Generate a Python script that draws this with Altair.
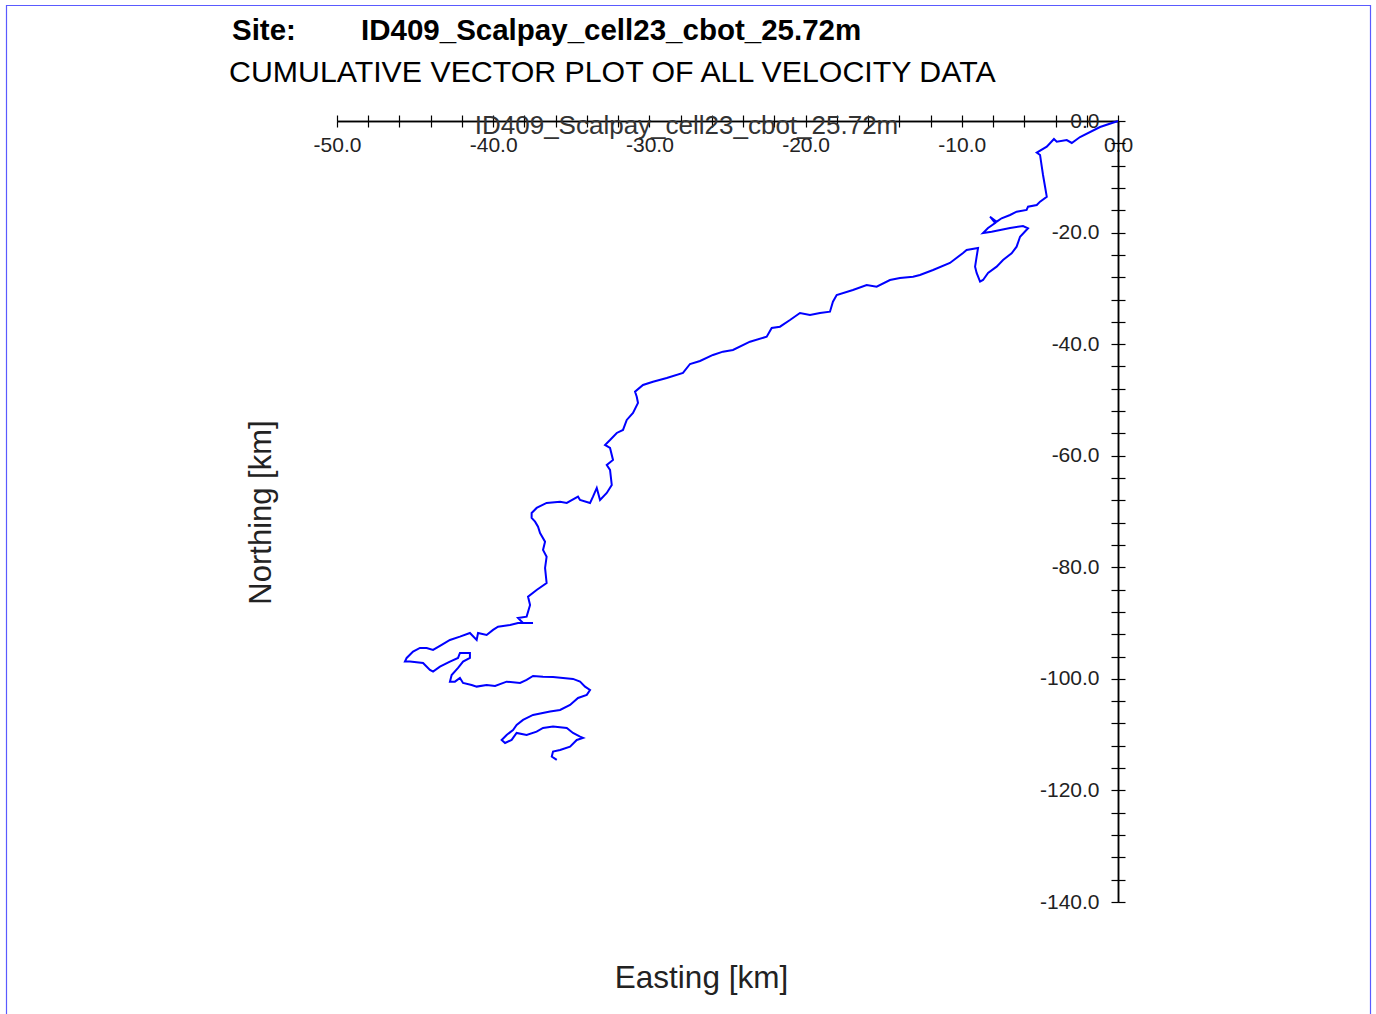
import altair as alt
import pandas as pd

# Cumulative displacement path (km)
east = [0.0, -1.15, -2.43, -2.96, -3.28, -3.92, -4.10, -4.56, -5.20, -4.99,
        -4.88, -4.80, -4.67, -4.56, -4.99, -5.20, -5.76, -5.85, -6.49, -6.91,
        -7.45, -7.77, -8.19, -7.87, -8.32, -8.64, -8.09, -6.91, -6.08, -5.76,
        -6.27, -6.49, -6.81, -7.36, -7.77, -8.32, -8.64, -8.83, -9.05, -9.15,
        -9.05, -8.96, -9.69, -9.92, -10.76, -11.84, -12.68, -13.12, -13.96, -14.60,
        -15.45, -16.09, -16.97, -18.01, -18.25, -18.44, -19.08, -19.72, -20.36, -21.00,
        -21.64, -22.17, -22.49, -23.56, -24.65, -25.29, -25.93, -26.76, -27.40, -27.85,
        -28.89, -29.77, -30.41, -30.92, -30.81, -30.73, -31.05, -31.45, -31.69, -32.09,
        -32.52, -32.84, -32.52, -32.33, -32.73, -32.52, -32.41, -32.73, -33.16, -33.37,
        -33.61, -33.80, -34.44, -34.57, -35.29, -35.72, -36.58, -37.22, -37.54, -37.54,
        -37.32, -37.13, -37.00, -36.68, -36.81, -36.58, -36.68, -36.58, -37.22, -37.77,
        -37.64, -37.86, -38.41, -38.09, -37.45, -38.41, -38.92, -39.69, -40.01, -40.42,
        -40.97, -41.06, -41.49, -42.13, -42.77, -43.30, -43.85, -44.26, -44.69, -45.13,
        -45.54, -45.65, -45.33, -44.49, -44.05, -43.85, -43.41, -42.77, -42.25, -42.13,
        -41.49, -41.49, -41.93, -42.25, -42.66, -42.77, -42.45, -42.13, -41.93, -41.38,
        -41.06, -40.42, -39.88, -39.14, -38.28, -37.86, -37.45, -36.81, -36.17, -35.53,
        -34.89, -34.44, -34.12, -33.80, -34.01, -34.57, -35.08, -35.72, -36.36, -37.45,
        -38.09, -38.50, -38.73, -39.14, -39.46, -39.24, -38.82, -38.50, -37.86, -37.22,
        -36.81, -36.17, -35.29, -34.89, -34.44, -34.25, -34.65, -35.08, -35.72, -36.17,
        -36.25, -35.93]
north = [0.0, -1.08, -2.87, -3.94, -3.41, -3.71, -3.23, -4.61, -5.68, -6.09,
         -8.19, -9.68, -11.78, -13.57, -14.46, -15.06, -15.36, -15.95, -16.26, -16.85,
         -17.44, -18.05, -17.15, -18.28, -19.18, -20.07, -19.84, -19.18, -18.82, -19.23,
         -20.74, -22.53, -23.71, -24.91, -26.11, -27.24, -28.50, -28.80, -27.24, -26.11,
         -24.32, -22.76, -23.12, -23.66, -25.45, -26.71, -27.60, -27.91, -28.14, -28.50,
         -29.70, -29.39, -30.29, -31.19, -32.39, -34.18, -34.41, -34.77, -34.41, -35.67,
         -36.87, -37.10, -38.66, -39.56, -41.05, -41.35, -41.94, -43.02, -43.56, -45.17,
         -46.06, -46.73, -47.32, -48.52, -49.42, -50.54, -52.34, -53.59, -55.38, -55.92,
         -57.18, -58.07, -58.61, -60.76, -61.66, -62.55, -65.24, -66.68, -67.93, -65.78,
         -67.34, -68.47, -67.93, -67.34, -68.47, -68.24, -68.47, -69.36, -70.26, -71.16,
         -71.82, -72.72, -73.85, -75.41, -76.89, -78.10, -80.12, -82.81, -84.06, -85.26,
         -86.75, -88.85, -89.08, -89.98, -89.98, -89.98, -90.34, -90.64, -91.23, -92.13,
         -91.77, -93.03, -91.77, -92.43, -93.03, -93.92, -94.82, -94.46, -94.46, -95.12,
         -96.25, -96.91, -96.91, -97.15, -98.40, -98.71, -97.81, -96.91, -96.25, -95.36,
         -95.36, -96.25, -96.91, -98.04, -99.30, -100.50, -100.50, -99.84, -100.73, -101.09,
         -101.39, -101.09, -101.27, -100.50, -100.73, -100.19, -99.48, -99.60, -99.65, -99.83,
         -100.01, -100.50, -101.39, -101.99, -102.88, -103.42, -104.67, -105.57, -105.87, -106.47,
         -107.36, -108.26, -109.16, -110.05, -110.95, -111.49, -110.95, -109.69, -110.05, -109.46,
         -108.80, -108.56, -108.80, -109.69, -110.36, -110.59, -110.95, -112.15, -112.74, -113.04,
         -113.94, -114.53]

x_ticks = list(range(-50, 1, 2))
y_ticks = list(range(-140, 1, 4))

site_label = ["Site:"]
site_name = ["ID409_Scalpay_cell23_cbot_25.72m"]
subtitle_line = ["CUMULATIVE VECTOR PLOT OF ALL VELOCITY DATA"]
x_title = "Easting [km]"
y_title = "Northing [km]"

df = pd.DataFrame({"step": list(range(len(east))), "east": east, "north": north})

W = 781
H = 781
REG = "Liberation Sans, Arial"

x_scale = alt.Scale(domain=[-50, 0], nice=False, zero=False)
y_scale = alt.Scale(domain=[-140, 0], nice=False, zero=False)

lbl_x = "datum.value % 10 == 0 ? (datum.value < 0 ? '-' : '') + format(abs(datum.value), '.1f') : ''"
lbl_y = "datum.value % 20 == 0 ? (datum.value < 0 ? '-' : '') + format(abs(datum.value), '.1f') : ''"

border = alt.Chart(pd.DataFrame({"k": [0]})).mark_rect(
    fillOpacity=0, stroke="#5a5aff", strokeWidth=1.2
).encode(
    x=alt.value(-330.5), x2=alt.value(1033.5), y=alt.value(-115.5), y2=alt.value(910)
)


def head_text(values, x, y, size, weight):
    return alt.Chart(pd.DataFrame({"t": values})).mark_text(
        align="left", baseline="alphabetic", font=REG, fontSize=size,
        fontWeight=weight, color="#000"
    ).encode(text="t:N", x=alt.value(x), y=alt.value(y))


t_site = head_text(site_label, -105, -81, 29.5, "bold")
t_name = head_text(site_name, 24, -81, 29.5, "bold")
t_sub = head_text(subtitle_line, -108, -39, 30.3, "normal")

trace = alt.Chart(df).mark_line(color="#0000ff", strokeWidth=2).encode(
    x=alt.X("east:Q", scale=x_scale, axis=alt.Axis(
        orient="bottom", offset=-H, values=x_ticks, labelExpr=lbl_x,
        tickSize=6, tickWidth=1.2, labelPadding=7, labelFlush=False, labelOverlap=False,
        labelFontSize=21, labelFont=REG, labelColor="#222",
        domainColor="#000", domainWidth=1.5, tickColor="#000", grid=False,
        title=x_title, titleX=364, titleY=866, titleAlign="center",
        titleBaseline="alphabetic", titleFontSize=31.5, titleFont=REG,
        titleFontWeight="normal", titleColor="#222")),
    y=alt.Y("north:Q", scale=y_scale, axis=alt.Axis(
        orient="left", offset=-W, values=y_ticks, labelExpr=lbl_y,
        tickSize=7, tickWidth=1.2, labelPadding=12, labelFlush=False, labelOverlap=False,
        labelFontSize=21, labelFont=REG, labelColor="#222",
        domainColor="#000", domainWidth=1.5, tickColor="#000", grid=False,
        title=y_title, titleX=-857, titleY=391, titleAngle=-90, titleAlign="center",
        titleBaseline="middle", titleFontSize=31, titleFont=REG,
        titleFontWeight="normal", titleColor="#222")),
    order="step:Q",
)

frame = alt.Chart(df).mark_line(opacity=0).encode(
    x=alt.X("east:Q", scale=x_scale, axis=alt.Axis(
        orient="top", values=x_ticks, labels=False, tickSize=6, tickWidth=1.2,
        domainColor="#000", domainWidth=1.5, tickColor="#000", grid=False,
        title=site_name[0], titleX=349, titleY=4, titleAlign="center",
        titleBaseline="middle", titleFontSize=26, titleFont=REG,
        titleFontWeight="normal", titleColor="#333")),
    y=alt.Y("north:Q", scale=y_scale, axis=alt.Axis(
        orient="right", values=y_ticks, labels=False, tickSize=7, tickWidth=1.2,
        domainColor="#000", domainWidth=1.5, tickColor="#000", grid=False,
        title="")),
    order="step:Q",
)

chart = alt.layer(border, t_site, t_name, t_sub, trace, frame).resolve_axis(
    x="independent", y="independent"
).properties(
    width=W,
    height=H,
    background="white",
    autosize=alt.AutoSizeParams(type="none"),
    padding={"left": 337, "top": 121, "right": 258, "bottom": 112},
).configure_view(strokeWidth=0)

chart.save("out.html", embed_options={"renderer": "svg", "actions": False})
